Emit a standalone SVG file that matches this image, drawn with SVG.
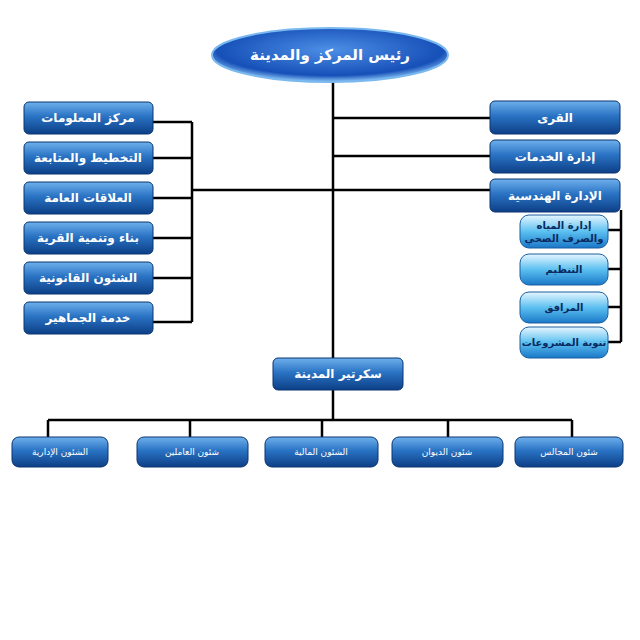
<svg xmlns="http://www.w3.org/2000/svg" width="640" height="640" viewBox="0 0 640 640">
<defs>
<linearGradient id="b" x1="0" y1="0" x2="0" y2="1"><stop offset="0" stop-color="#6fb0ec"/><stop offset="0.45" stop-color="#2a73c4"/><stop offset="1" stop-color="#0d3f86"/></linearGradient>
<linearGradient id="l" x1="0" y1="0" x2="0" y2="1"><stop offset="0" stop-color="#e6f6ff"/><stop offset="0.5" stop-color="#5cc0f0"/><stop offset="1" stop-color="#1a78c8"/></linearGradient>
<radialGradient id="e" cx="0.5" cy="0.4" r="0.6"><stop offset="0" stop-color="#4d8fe6"/><stop offset="0.8" stop-color="#1650b8"/><stop offset="1" stop-color="#8cc6f6"/></radialGradient>
</defs>
<style>
.n{fill:url(#b);stroke:#0a3470;stroke-width:1}
.s{fill:url(#l);stroke:#1a5fa0;stroke-width:1}
.t{font-family:"DejaVu Sans",sans-serif;font-size:12px;fill:#fff;text-anchor:middle;font-weight:bold}
.u{font-family:"DejaVu Sans",sans-serif;font-size:10px;fill:#0a2a60;text-anchor:middle;font-weight:bold}
.w{font-family:"DejaVu Sans",sans-serif;font-size:9px;fill:#fff;text-anchor:middle}
.c{stroke:#000;stroke-width:2.5;fill:none}
</style>
<rect width="640" height="640" fill="#fff"/>
<g id="connectors">
<path class="c" d="M333 82V362M333 118H490M333 156H490M192 190H490M153 122H192M153 158H192M153 198H192M153 238H192M153 278H192M153 322H192M192 122V322M608 230H621M608 269H621M608 307H621M608 342H621M621 210V342M333 390V420M48 420H572M48 420V438M190 420V438M322 420V438M448 420V438M572 420V438"/>
</g>
<g id="top"><ellipse cx="330" cy="55" rx="118" ry="27" fill="url(#e)" stroke="#7ab8f0" stroke-width="2"/><text class="t" x="330" y="60" font-size="15" style="font-size:15px">رئيس المركز والمدينة</text></g>
<g id="l1"><rect class="n" x="24" y="102" width="129" height="32" rx="5"/><text class="t" x="88" y="122">مركز المعلومات</text></g>
<g id="l2"><rect class="n" x="24" y="142" width="129" height="32" rx="5"/><text class="t" x="88" y="162">التخطيط والمتابعة</text></g>
<g id="l3"><rect class="n" x="24" y="182" width="129" height="32" rx="5"/><text class="t" x="88" y="202">العلاقات العامة</text></g>
<g id="l4"><rect class="n" x="24" y="222" width="129" height="32" rx="5"/><text class="t" x="88" y="242">بناء وتنمية القرية</text></g>
<g id="l5"><rect class="n" x="24" y="262" width="129" height="32" rx="5"/><text class="t" x="88" y="282">الشئون القانونية</text></g>
<g id="l6"><rect class="n" x="24" y="302" width="129" height="32" rx="5"/><text class="t" x="88" y="322">خدمة الجماهير</text></g>
<g id="r1"><rect class="n" x="490" y="101" width="130" height="33" rx="5"/><text class="t" x="555" y="122">القرى</text></g>
<g id="r2"><rect class="n" x="490" y="140" width="130" height="33" rx="5"/><text class="t" x="555" y="161">إدارة الخدمات</text></g>
<g id="r3"><rect class="n" x="490" y="179" width="130" height="33" rx="5"/><text class="t" x="555" y="200">الإدارة الهندسية</text></g>
<g id="s1"><rect class="s" x="520" y="215" width="88" height="33" rx="9"/><text class="u" x="564" y="229">إدارة المياه</text><text class="u" x="564" y="242">والصرف الصحي</text></g>
<g id="s2"><rect class="s" x="520" y="254" width="88" height="31" rx="9"/><text class="u" x="564" y="273">التنظيم</text></g>
<g id="s3"><rect class="s" x="520" y="292" width="88" height="31" rx="9"/><text class="u" x="564" y="311">المرافق</text></g>
<g id="s4"><rect class="s" x="520" y="327" width="88" height="31" rx="9"/><text class="u" x="564" y="346">تنوبة المشروعات</text></g>
<g id="sec"><rect class="n" x="273" y="358" width="130" height="32" rx="5"/><text class="t" x="338" y="378">سكرتير المدينة</text></g>
<g id="b1"><rect class="n" x="12" y="437" width="96" height="30" rx="7"/><text class="w" x="60" y="455">الشئون الإدارية</text></g>
<g id="b2"><rect class="n" x="137" y="437" width="111" height="30" rx="7"/><text class="w" x="192" y="455">شئون العاملين</text></g>
<g id="b3"><rect class="n" x="265" y="437" width="113" height="30" rx="7"/><text class="w" x="321" y="455">الشئون المالية</text></g>
<g id="b4"><rect class="n" x="392" y="437" width="111" height="30" rx="7"/><text class="w" x="447" y="455">شئون الديوان</text></g>
<g id="b5"><rect class="n" x="515" y="437" width="108" height="30" rx="7"/><text class="w" x="569" y="455">شئون المجالس</text></g>
</svg>
